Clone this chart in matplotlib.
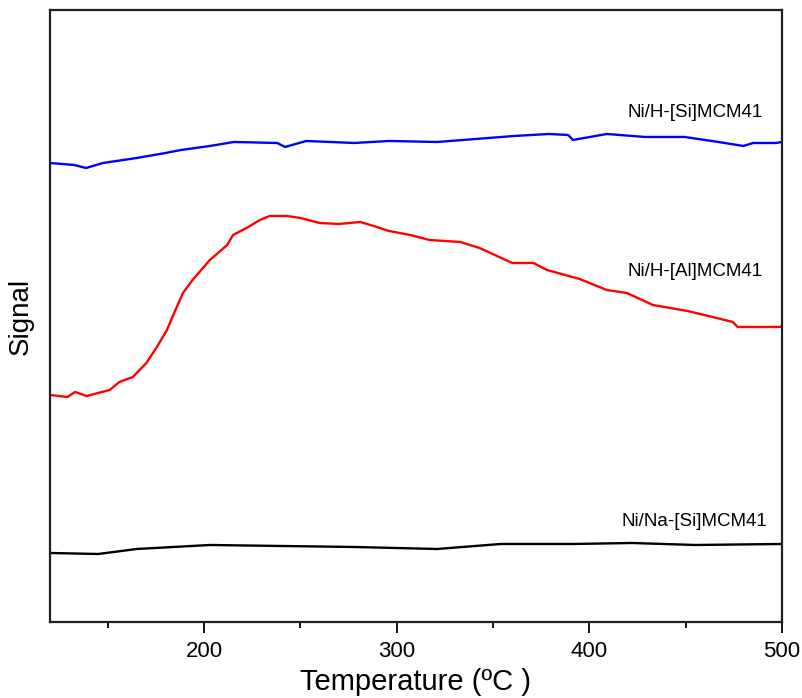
import numpy as np
import matplotlib
matplotlib.use("Agg")
import matplotlib.pyplot as plt
from matplotlib.ticker import MultipleLocator

plt.rcParams['font.family'] = ['Liberation Sans', 'DejaVu Sans']

# values (signal in arbitrary units)
t_si = [120, 132.5, 138.7, 147.5, 165, 180, 188, 203, 215.5, 238, 242, 253, 278, 296,
        321, 341, 361, 379, 389, 391.5, 409, 429, 449.5, 467, 480, 485, 497, 500]
s_si = [459, 457, 454, 459, 464, 469, 472, 476, 480, 479, 475, 481, 479, 481,
        480, 483, 486, 488, 487, 482, 488, 485, 485, 480, 476, 479, 479, 480]

t_al = [120, 129, 133, 139, 151, 156, 163, 170, 175.5, 180.7, 184, 189, 194, 203,
        212, 215, 222, 229, 234, 243, 250, 260, 270, 281, 288, 296, 307, 317,
        333, 343, 360, 371, 378, 395, 409, 419.5, 433, 451, 464, 474.5, 477, 499, 500]
s_al = [227, 225, 230, 226, 232, 240, 245, 259, 275, 292, 307, 329, 342, 362,
        377, 387, 394, 402, 406, 406, 404, 399, 398, 400, 396, 391, 387, 382,
        380, 374, 359, 359, 352, 343, 332, 329, 317, 311, 305, 300, 295, 295, 296]

t_na = [120, 145, 165, 203, 240, 278, 321, 354, 391.5, 422, 455, 500]
s_na = [69, 68, 73, 77, 76, 75, 73, 78, 78, 79, 77, 78]

labels = ['Ni/H-[Si]MCM41', 'Ni/H-[Al]MCM41', 'Ni/Na-[Si]MCM41']
label_pos = [(490, 509), (490, 350), (492.5, 100)]

fig = plt.figure(figsize=(8.03, 6.98), dpi=100)
ax = fig.add_axes([0.0623, 0.1089, 0.9115, 0.8768])

ax.plot(t_si, s_si, color='#0000ff', lw=1.7)
ax.plot(t_al, s_al, color='#ff0000', lw=1.7)
ax.plot(t_na, s_na, color='black', lw=1.7)

for lab, (x, y) in zip(labels, label_pos):
    ax.text(x, y, lab, ha='right', va='center', fontsize=13.5)

ax.set_xlim(120, 500)
ax.set_ylim(0, 612)
ax.xaxis.set_major_locator(MultipleLocator(100))
ax.xaxis.set_minor_locator(MultipleLocator(50))
ax.tick_params(axis='x', which='major', direction='out', length=8, width=1.3,
               labelsize=16, pad=6)
ax.tick_params(axis='x', which='minor', direction='out', length=4.5, width=1.3)
ax.set_yticks([])
for sp in ax.spines.values():
    sp.set_linewidth(1.6)
    sp.set_color('#222222')

ax.set_xlabel('Temperature (ºC )', fontsize=21, labelpad=4)
ax.set_ylabel('Signal', fontsize=20, labelpad=12)

fig.savefig('out.png', dpi=100)
